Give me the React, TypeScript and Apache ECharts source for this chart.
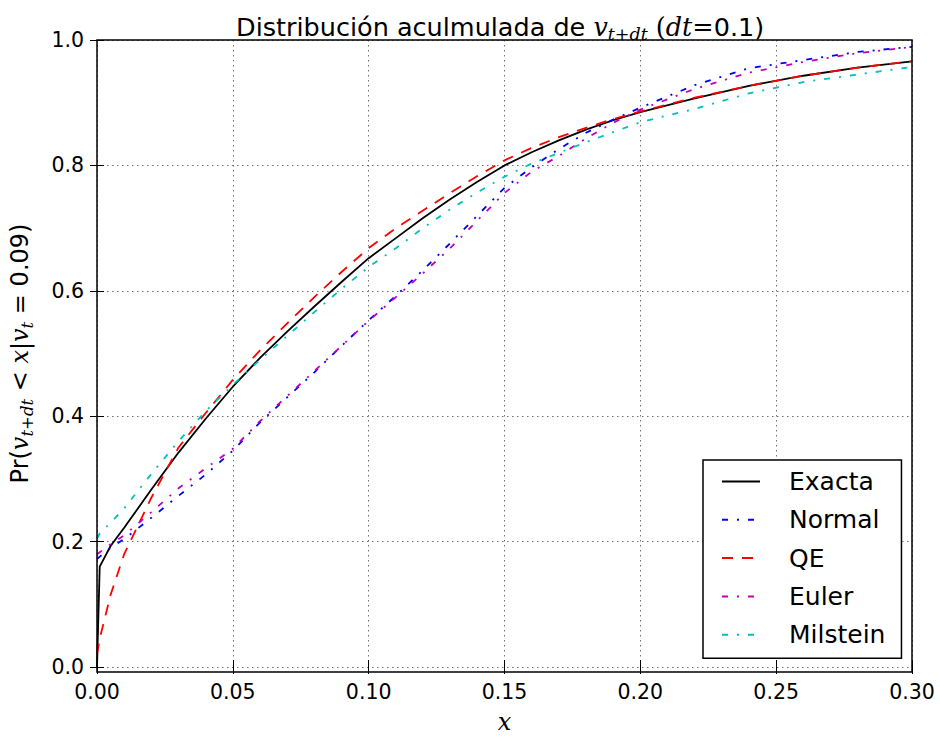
import React, { useEffect, useRef } from "react";
import * as echarts from "echarts";

// x grid (shared by all series)
const xGrid = [0, 0.001, 0.005, 0.01, 0.02, 0.03, 0.04, 0.05, 0.06, 0.07, 0.08, 0.09, 0.1, 0.11, 0.12, 0.13, 0.14, 0.15, 0.16, 0.17, 0.18, 0.19, 0.2, 0.22, 0.24, 0.26, 0.28, 0.3];

const exacta = [0, 0.16, 0.193, 0.222, 0.283, 0.342, 0.396, 0.447, 0.493, 0.535, 0.575, 0.614, 0.652, 0.684, 0.716, 0.746, 0.774, 0.8, 0.821, 0.84, 0.857, 0.872, 0.885, 0.907, 0.927, 0.943, 0.956, 0.966];
const normal = [0.172, 0.176, 0.19, 0.204, 0.238, 0.273, 0.307, 0.345, 0.39, 0.43, 0.47, 0.512, 0.553, 0.592, 0.633, 0.676, 0.72, 0.764, 0.797, 0.826, 0.852, 0.873, 0.892, 0.928, 0.955, 0.968, 0.981, 0.989];
const qe = [0.02, 0.045, 0.115, 0.18, 0.27, 0.35, 0.405, 0.458, 0.505, 0.548, 0.59, 0.63, 0.668, 0.7, 0.728, 0.756, 0.783, 0.808, 0.828, 0.845, 0.86, 0.874, 0.886, 0.908, 0.927, 0.943, 0.956, 0.966];
const euler = [0.18, 0.183, 0.196, 0.21, 0.247, 0.285, 0.317, 0.348, 0.392, 0.432, 0.472, 0.512, 0.552, 0.59, 0.628, 0.668, 0.712, 0.756, 0.79, 0.815, 0.843, 0.868, 0.889, 0.922, 0.948, 0.965, 0.979, 0.989];
const milstein = [0.205, 0.213, 0.23, 0.253, 0.308, 0.36, 0.408, 0.45, 0.49, 0.528, 0.566, 0.603, 0.638, 0.668, 0.7, 0.73, 0.757, 0.782, 0.803, 0.82, 0.837, 0.853, 0.869, 0.89, 0.915, 0.933, 0.945, 0.957];

const seriesNames = ["Exacta", "Normal", "QE", "Euler", "Milstein"];
const xTickLabels = ["0.00", "0.05", "0.10", "0.15", "0.20", "0.25", "0.30"];
const yTickLabels = ["0.0", "0.2", "0.4", "0.6", "0.8", "1.0"];

const SANS = "'DejaVu Sans', sans-serif";
const MATH = "'DejaVu Serif', serif";

export default function App() {
  const ref = useRef<HTMLDivElement>(null);
  useEffect(() => {
    if (!ref.current) return;
    const chart = echarts.init(ref.current, null, { renderer: "svg" });
    const pts = (ys: number[]) => xGrid.map((x, i) => [x, ys[i]]);
    const dashDot = [6, 9, 2, 9];
    const mkLine = (name: string, ys: number[], color: string, type: any, width = 1.8) => ({
      name,
      type: "line",
      data: pts(ys),
      symbol: "none",
      showSymbol: false,
      smooth: false,
      itemStyle: { color },
      lineStyle: { color, width, type },
    });
    const base = { color: "#000", fontWeight: "normal" };
    const option: any = {
      animation: false,
      backgroundColor: "#fff",
      textStyle: { fontFamily: SANS },
      title: {
        text: "{t|Distribución aculmulada de }{m|v}{sub|t+dt}{t| }{r|(}{m|dt}{r|=}{t|0.1)}",
        left: 231,
        top: 6,
        textStyle: {
          fontWeight: "normal",
          rich: {
            t: { ...base, fontFamily: SANS, fontSize: 25.5, lineHeight: 32 },
            m: { ...base, fontFamily: MATH, fontStyle: "italic", fontSize: 25.5, lineHeight: 32 },
            r: { ...base, fontFamily: MATH, fontSize: 25.5, lineHeight: 32 },
            sub: { ...base, fontFamily: MATH, fontStyle: "italic", fontSize: 17.5, lineHeight: 17, verticalAlign: "bottom" },
          },
        },
      },
      grid: { left: 97, right: 28, top: 40, bottom: 73 },
      xAxis: [
        {
          type: "value",
          min: 0,
          max: 0.3,
          interval: 0.05,
          offset: 5,
          axisLine: { show: false },
          axisTick: { show: true, inside: true, length: 7, lineStyle: { color: "#000", width: 1 } },
          axisLabel: {
            color: "#000",
            fontSize: 20.5,
            margin: 9,
            formatter: (v: number) => xTickLabels[Math.round(v / 0.05)] ?? "",
          },
          splitLine: { show: true, lineStyle: { color: "#707070", width: 1, type: [1.5, 3.5] } },
          name: "x",
          nameLocation: "middle",
          nameGap: 38,
          nameTextStyle: { fontFamily: MATH, fontStyle: "italic", fontSize: 24, color: "#000" },
        },
        {
          type: "value",
          position: "top",
          min: 0,
          max: 0.3,
          interval: 0.05,
          axisLine: { show: false },
          axisTick: { show: true, inside: true, length: 7, lineStyle: { color: "#000", width: 1 } },
          axisLabel: { show: false },
          splitLine: { show: false },
        },
      ],
      yAxis: [
        {
          type: "value",
          min: 0,
          max: 1,
          interval: 0.2,
          axisLine: { show: false },
          axisTick: { show: true, inside: true, length: 7, lineStyle: { color: "#000", width: 1 } },
          axisLabel: {
            color: "#000",
            fontSize: 20.5,
            margin: 13,
            formatter: (v: number) => yTickLabels[Math.round(v / 0.2)] ?? "",
          },
          splitLine: { show: true, lineStyle: { color: "#707070", width: 1, type: [1.5, 3.5] } },
          name: "{s|Pr(}{m|v}{sub|t+dt}{r| < }{m|x}{r||}{m|v}{sub|t}{r| = }{s|0.09)}",
          nameLocation: "middle",
          nameGap: 61,
          nameRotate: 90,
          nameTextStyle: {
            fontWeight: "normal",
            rich: {
              s: { ...base, fontFamily: SANS, fontSize: 24, lineHeight: 32 },
              m: { ...base, fontFamily: MATH, fontStyle: "italic", fontSize: 24, lineHeight: 32 },
              r: { ...base, fontFamily: MATH, fontSize: 24, lineHeight: 32 },
              sub: { ...base, fontFamily: MATH, fontStyle: "italic", fontSize: 16.5, lineHeight: 16, verticalAlign: "bottom" },
            },
          },
        },
        {
          type: "value",
          position: "right",
          min: 0,
          max: 1,
          interval: 0.2,
          axisLine: { show: false },
          axisTick: { show: true, inside: true, length: 7, lineStyle: { color: "#000", width: 1 } },
          axisLabel: { show: false },
          splitLine: { show: false },
        },
      ],
      legend: {
        data: seriesNames,
        orient: "vertical",
        left: 703,
        top: 460,
        padding: [9, 16, 11, 18],
        itemGap: 13.3,
        itemWidth: 38,
        itemHeight: 25,
        itemStyle: { opacity: 0 },
        borderColor: "#000",
        borderWidth: 1.5,
        borderRadius: 0,
        backgroundColor: "#fff",
        textStyle: { fontSize: 25, color: "#000", lineHeight: 25, padding: [0, 0, 0, 24], fontFamily: SANS },
      },
      graphic: [
        {
          type: "rect",
          silent: true,
          z: 100,
          shape: { x: 97, y: 40, width: 815, height: 632 },
          style: { fill: "none", stroke: "#000", lineWidth: 1.5 },
        },
      ],
      series: [
        mkLine("Exacta", exacta, "#000000", "solid"),
        mkLine("Normal", normal, "#0000ff", dashDot),
        mkLine("QE", qe, "#ff0000", [11, 9]),
        mkLine("Euler", euler, "#bf00bf", dashDot),
        mkLine("Milstein", milstein, "#00bfbf", dashDot),
      ],
    };
    chart.setOption(option);
    return () => chart.dispose();
  }, []);
  return (
    <div
      ref={ref}
      style={{ position: "absolute", left: 0, top: 0, width: 940, height: 740 }}
    />
  );
}
